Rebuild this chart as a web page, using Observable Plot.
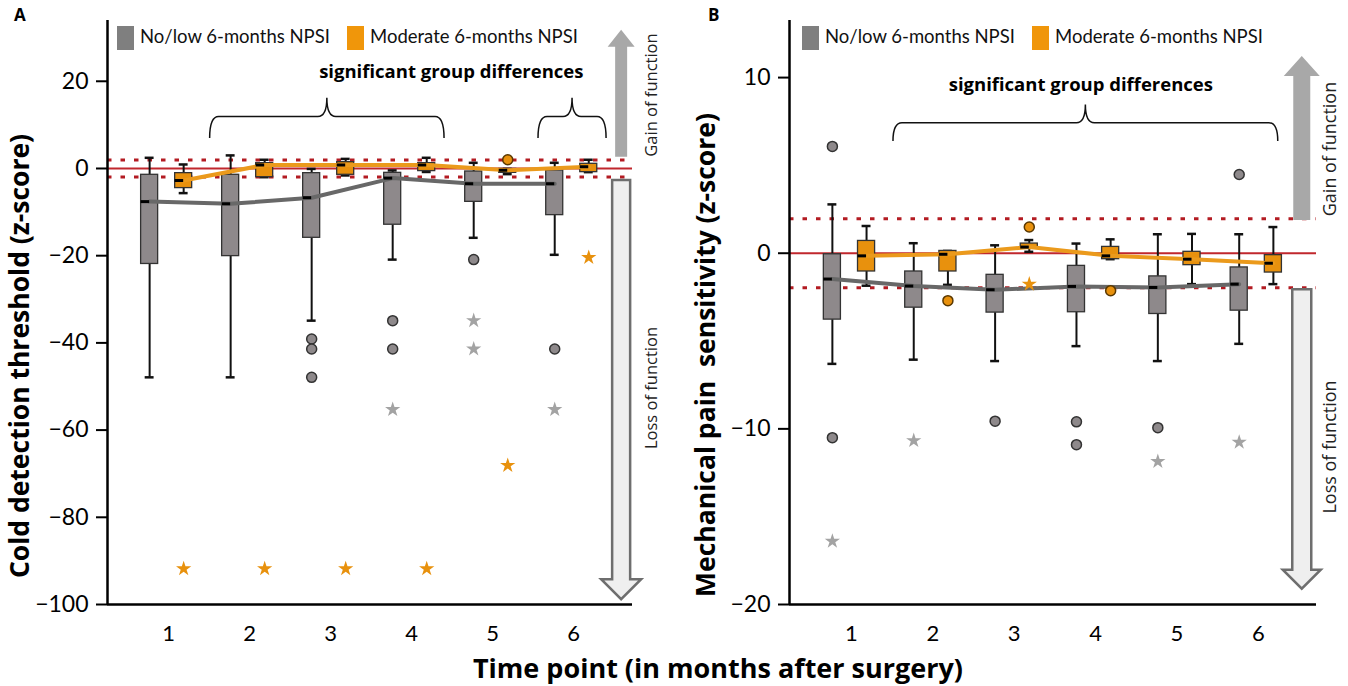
<!DOCTYPE html>
<html><head><meta charset="utf-8">
<script src="https://cdn.jsdelivr.net/npm/d3@7"></script>
<script src="https://cdn.jsdelivr.net/npm/@observablehq/plot@0.6"></script>
<style>
body{margin:0;background:#fff;font-family:Lato,"Open Sans",sans-serif;}
#wrap{position:relative;width:1348px;height:686px;overflow:hidden;background:#fff;}
.panel{position:absolute;top:0;}
#xtitle{position:absolute;left:0;width:1436px;top:652px;text-align:center;font-family:"Open Sans",sans-serif;font-weight:bold;font-size:27px;line-height:31px;height:31px;color:#000;}
</style></head>
<body>
<div id="wrap">
  <div id="pa" class="panel" style="left:0px"></div>
  <div id="pb" class="panel" style="left:680px"></div>
  <div id="xtitle">Time point (in months after surgery)</div>
</div>
<script>
// ---------- data ----------
const timepoints = [1, 2, 3, 4, 5, 6];
const groupNames = ["No/low 6-months NPSI", "Moderate 6-months NPSI"];
const xTickLabels = [1, 2, 3, 4, 5, 6];

// Panel A: cold detection threshold, boxes [lowWhisker, q1, median, q3, highWhisker]
const cdtNoLowBoxes = [
  [-47.9, -21.9, -7.6, -1.45, 2.45],
  [-47.9, -20.1, -8.1, -1.45, 3.0],
  [-34.9, -15.9, -6.7, -1.07, -0.1],
  [-20.9, -12.9, -2.2, -1.0, -0.45],
  [-15.9, -7.65, -3.5, -0.69, 1.3],
  [-19.8, -10.7, -3.5, -0.45, 1.3]
];
const cdtModerateBoxes = [
  [-5.65, -4.5, -2.75, -1.07, 0.92],
  [-2.0, -2.0, 0.8, 1.22, 2.0],
  [-1.6, -1.45, 0.8, 1.45, 2.2],
  [-0.8, -0.6, 0.8, 1.22, 2.45],
  [-1.3, -1.0, -0.4, -0.1, -0.1],
  [-0.84, -0.84, 0.4, 1.07, 2.0]
];
const cdtNoLowCircles = [[3, -39.1], [3, -41.4], [3, -47.9], [4, -34.9], [4, -41.4], [5, -20.9], [6, -41.4]];
const cdtNoLowStars = [[4, -55.3], [5, -34.9], [5, -41.4], [6, -55.3]];
const cdtModerateCircles = [[5, 2.0]];
const cdtModerateStars = [[1, -91.8], [2, -91.8], [3, -91.8], [4, -91.8], [5, -68.1], [6, -20.4]];
const cdtYTicks = [20, 0, -20, -40, -60, -80, -100];

// Panel B: mechanical pain sensitivity
const mpsNoLowBoxes = [
  [-6.3, -3.78, -1.47, -0.06, 2.78],
  [-6.06, -3.1, -1.87, -1.04, 0.57],
  [-6.14, -3.38, -2.08, -1.23, 0.45],
  [-5.29, -3.36, -1.89, -0.72, 0.55],
  [-6.14, -3.46, -1.95, -1.32, 1.08],
  [-5.16, -3.27, -1.76, -0.81, 1.08]
];
const mpsModerateBoxes = [
  [-1.85, -1.04, -0.15, 0.7, 1.55],
  [-1.8, -1.04, -0.06, 0.13, 0.13],
  [0.08, 0.27, 0.35, 0.55, 0.75],
  [-0.34, -0.34, -0.15, 0.36, 0.79],
  [-1.76, -0.68, -0.34, 0.08, 1.1],
  [-1.76, -1.1, -0.57, -0.11, 1.49]
];
const mpsNoLowCircles = [[1, 6.08], [1, -10.5], [3, -9.56], [4, -9.6], [4, -10.9], [5, -9.93], [6, 4.48]];
const mpsNoLowStars = [[1, -16.4], [2, -10.67], [5, -11.86], [6, -10.76]];
const mpsModerateCircles = [[2, -2.7], [3, 1.49], [4, -2.13]];
const mpsModerateStars = [[3, -1.76]];
const mpsYTicks = [10, 0, -10, -20];

const normalRef = [0];
const normalBand = [-1.96, 1.96];

// ---------- style ----------
const GRAY = "#8e898b", ORANGE = "#e8910d";
const GRAY_LINE = "#686868", ORANGE_LINE = "#eb9a1c";
const GRAY_STAR = "#a3a3a3";
const GRAY_LEG = "#7f7f7f", ORANGE_LEG = "#f0960a";
const OFF = 0.21, BW = 0.21, CAP = 0.055;
const TITLE_FONT = "'Open Sans', sans-serif";
const minusFmt = d => d < 0 ? "\u2212" + Math.abs(d) : String(d);

function boxRows(boxes, offset) {
  return boxes.map((b, i) => ({t: timepoints[i], x: timepoints[i] + offset, lo: b[0], q1: b[1], med: b[2], q3: b[3], hi: b[4]}));
}
function ptRows(pts, offset) { return pts.map(([t, v]) => ({x: t + offset, v})); }

function boxMarks(rows, fill) {
  return [
    Plot.ruleX(rows, {x: "x", y1: "q3", y2: "hi", stroke: "#111", strokeWidth: 2}),
    Plot.ruleX(rows, {x: "x", y1: "lo", y2: "q1", stroke: "#111", strokeWidth: 2}),
    Plot.ruleY(rows, {y: "hi", x1: d => d.x - CAP, x2: d => d.x + CAP, stroke: "#111", strokeWidth: 2.5}),
    Plot.ruleY(rows, {y: "lo", x1: d => d.x - CAP, x2: d => d.x + CAP, stroke: "#111", strokeWidth: 2.5}),
    Plot.rect(rows, {x1: d => d.x - BW / 2, x2: d => d.x + BW / 2, y1: "q1", y2: "q3", fill, stroke: "#333", strokeWidth: 1.3})
  ];
}

function makePanel(el, cfg) {
  const grayRows = boxRows(cfg.noLow, -OFF);
  const orangeRows = boxRows(cfg.moderate, OFF);
  const chart = Plot.plot({
    width: cfg.width, height: 686,
    marginLeft: cfg.ml, marginRight: cfg.mr, marginTop: 20, marginBottom: 82,
    style: {fontFamily: "Lato, 'Open Sans', sans-serif", background: "transparent", overflow: "visible"},
    x: {domain: cfg.xDomain},
    y: {domain: cfg.yDomain},
    marks: [
      Plot.ruleY(normalBand, {stroke: "#b31b22", strokeWidth: 3, strokeDasharray: "4.5,9"}),
      Plot.ruleY(normalRef, {stroke: "#c0272d", strokeWidth: 2}),
      ...boxMarks(grayRows, GRAY),
      ...boxMarks(orangeRows, ORANGE),
      Plot.line(grayRows, {x: "x", y: "med", stroke: GRAY_LINE, strokeWidth: 4}),
      Plot.line(orangeRows, {x: "x", y: "med", stroke: ORANGE_LINE, strokeWidth: 4}),
      Plot.ruleY(grayRows, {y: "med", x1: d => d.x - BW / 2, x2: d => d.x, stroke: "#000", strokeWidth: 3}),
      Plot.ruleY(orangeRows, {y: "med", x1: d => d.x - BW / 2, x2: d => d.x, stroke: "#000", strokeWidth: 3}),
      Plot.dot(ptRows(cfg.noLowCircles, -OFF), {x: "x", y: "v", r: 5, fill: GRAY, stroke: "#333", strokeWidth: 1.5}),
      Plot.dot(ptRows(cfg.moderateCircles, OFF), {x: "x", y: "v", r: 5, fill: ORANGE, stroke: "#5a3800", strokeWidth: 1.5}),
      Plot.dot(ptRows(cfg.noLowStars, -OFF), {x: "x", y: "v", r: 4.8, symbol: "star", fill: GRAY_STAR}),
      Plot.dot(ptRows(cfg.moderateStars, OFF), {x: "x", y: "v", r: 4.8, symbol: "star", fill: ORANGE}),
      Plot.ruleX([cfg.xDomain[0]], {stroke: "#000", strokeWidth: 2.5}),
      Plot.ruleY([cfg.yDomain[0]], {stroke: "#000", strokeWidth: 2.5}),
      Plot.axisY(cfg.yTicks, {tickSize: 11, tickPadding: 8, fontSize: 23, stroke: "#000", strokeWidth: 2, label: null, fill: "#000", tickFormat: minusFmt}),
      Plot.axisX(xTickLabels, {tickSize: 0, tickPadding: 21, fontSize: 22, label: null, fill: "#000", dx: 2})
    ]
  });
  const sx = chart.scale("x").apply, sy = chart.scale("y").apply;
  const svg = d3.select(chart);
  const g = svg.append("g").attr("text-anchor", "start");

  // arrows
  const a = cfg.arrows;
  const ax = sx(a.x);
  const up = [sy(a.gainFrom), sy(a.gainTo)];
  const uw = a.upShaft / 2, uh = a.upHead / 2, uhh = a.upHeadH;
  g.append("path")
    .attr("d", `M${ax - uw},${up[0]}L${ax - uw},${up[1] + uhh}L${ax - uh},${up[1] + uhh}L${ax},${up[1]}L${ax + uh},${up[1] + uhh}L${ax + uw},${up[1] + uhh}L${ax + uw},${up[0]}Z`)
    .attr("fill", "#a8a8a8");
  const dn = [sy(a.lossFrom), sy(a.lossTo)];
  const dw = a.dnShaft / 2, dh = a.dnHead / 2, dhh = a.dnHeadH;
  g.append("path")
    .attr("d", `M${ax - dw},${dn[0]}L${ax - dw},${dn[1] - dhh}L${ax - dh},${dn[1] - dhh}L${ax},${dn[1]}L${ax + dh},${dn[1] - dhh}L${ax + dw},${dn[1] - dhh}L${ax + dw},${dn[0]}Z`)
    .attr("fill", "#efefef").attr("stroke", "#6e6e6e").attr("stroke-width", 2.5).attr("stroke-linejoin", "miter");
  const tx = ax + a.textDx;
  g.append("text").text("Gain of function")
    .attr("transform", `translate(${tx},${a.gainTextY}) rotate(-90)`)
    .attr("text-anchor", "middle").attr("dominant-baseline", "middle")
    .attr("font-family", TITLE_FONT).attr("font-size", a.fs).attr("fill", "#222");
  g.append("text").text("Loss of function")
    .attr("transform", `translate(${tx},${a.lossTextY}) rotate(-90)`)
    .attr("text-anchor", "middle").attr("dominant-baseline", "middle")
    .attr("font-family", TITLE_FONT).attr("font-size", a.fs).attr("fill", "#222");

  // braces
  const b = cfg.braces;
  const yb = sy(b.yEnd), yh = sy(b.yBar), yt = sy(b.yTip);
  for (const [x1d, x2d] of b.spans) {
    const x1 = sx(x1d), x2 = sx(x2d), xm = (x1 + x2) / 2, r = 9;
    const d = `M${x1},${yb}Q${x1},${yh} ${x1 + r},${yh}L${xm - r},${yh}Q${xm},${yh} ${xm},${yt}Q${xm},${yh} ${xm + r},${yh}L${x2 - r},${yh}Q${x2},${yh} ${x2},${yb}`;
    g.append("path").attr("d", d).attr("fill", "none").attr("stroke", "#111").attr("stroke-width", 1.5);
  }
  g.append("text").text("significant group differences")
    .attr("x", sx(b.textX)).attr("y", sy(b.textY))
    .attr("text-anchor", "middle").attr("dominant-baseline", "middle")
    .attr("font-family", TITLE_FONT).attr("font-weight", "bold").attr("font-size", 18.5).attr("fill", "#000");

  // legend
  const L = cfg.legendX;
  const items = [[GRAY_LEG, groupNames[0], L], [ORANGE_LEG, groupNames[1], L + 230]];
  for (const [c, name, x] of items) {
    g.append("rect").attr("x", x).attr("y", 26).attr("width", 17).attr("height", 24).attr("fill", c);
    g.append("text").text(name).attr("x", x + 23).attr("y", 38).attr("dominant-baseline", "middle")
      .attr("text-anchor", "start").attr("font-size", 18.5).attr("fill", "#111");
  }

  // y title and panel letter
  g.append("text").text(cfg.yTitle)
    .attr("transform", `translate(${cfg.yTitleX},${cfg.yTitleY}) rotate(-90)`)
    .attr("text-anchor", "middle").attr("dominant-baseline", "middle")
    .attr("font-family", TITLE_FONT).attr("font-weight", "bold").attr("font-size", 26.5).attr("fill", "#000")
    .style("white-space", "pre");
  g.append("text").text(cfg.letter).attr("x", cfg.letterX).attr("y", 16)
    .attr("text-anchor", "start").attr("dominant-baseline", "middle")
    .attr("font-family", TITLE_FONT).attr("font-weight", "bold").attr("font-size", 17).attr("fill", "#000");

  el.appendChild(chart);
}

makePanel(document.getElementById("pa"), {
  width: 680, ml: 107, mr: 48,
  xDomain: [0.27, 6.75], yDomain: [-100, 33.94],
  yTicks: cdtYTicks,
  noLow: cdtNoLowBoxes, moderate: cdtModerateBoxes,
  noLowCircles: cdtNoLowCircles, noLowStars: cdtNoLowStars,
  moderateCircles: cdtModerateCircles, moderateStars: cdtModerateStars,
  arrows: {x: 6.616, gainFrom: 2.6, gainTo: 31.7, lossFrom: -2.75, lossTo: -98.9,
           upShaft: 12, upHead: 27, upHeadH: 17, dnShaft: 18, dnHead: 40, dnHeadH: 20,
           textDx: 31, gainTextY: 95, lossTextY: 388, fs: 16.5},
  braces: {spans: [[1.537, 4.43], [5.59, 6.43]], yEnd: 6.9, yBar: 11.8, yTip: 16.1, textX: 4.52, textY: 21.8},
  legendX: 117,
  yTitle: "Cold detection threshold (z-score)", yTitleX: 22, yTitleY: 356,
  letter: "A", letterX: 14
});

makePanel(document.getElementById("pb"), {
  width: 668, ml: 109, mr: 32,
  xDomain: [0.263, 6.74], yDomain: [-20, 13.25],
  yTicks: mpsYTicks,
  noLow: mpsNoLowBoxes, moderate: mpsModerateBoxes,
  noLowCircles: mpsNoLowCircles, noLowStars: mpsNoLowStars,
  moderateCircles: mpsModerateCircles, moderateStars: mpsModerateStars,
  arrows: {x: 6.565, gainFrom: 1.87, gainTo: 11.2, lossFrom: -2.08, lossTo: -19.13,
           upShaft: 17, upHead: 36, upHeadH: 20, dnShaft: 19, dnHead: 38, dnHeadH: 19,
           textDx: 29, gainTextY: 149, lossTextY: 447, fs: 18},
  braces: {spans: [[1.541, 6.27]], yEnd: 6.36, yBar: 7.4, yTip: 8.44, textX: 3.85, textY: 9.48},
  legendX: 122,
  yTitle: "Mechanical pain  sensitivity (z-score)", yTitleX: 28, yTitleY: 355,
  letter: "B", letterX: 28
});
</script>
</body></html>
